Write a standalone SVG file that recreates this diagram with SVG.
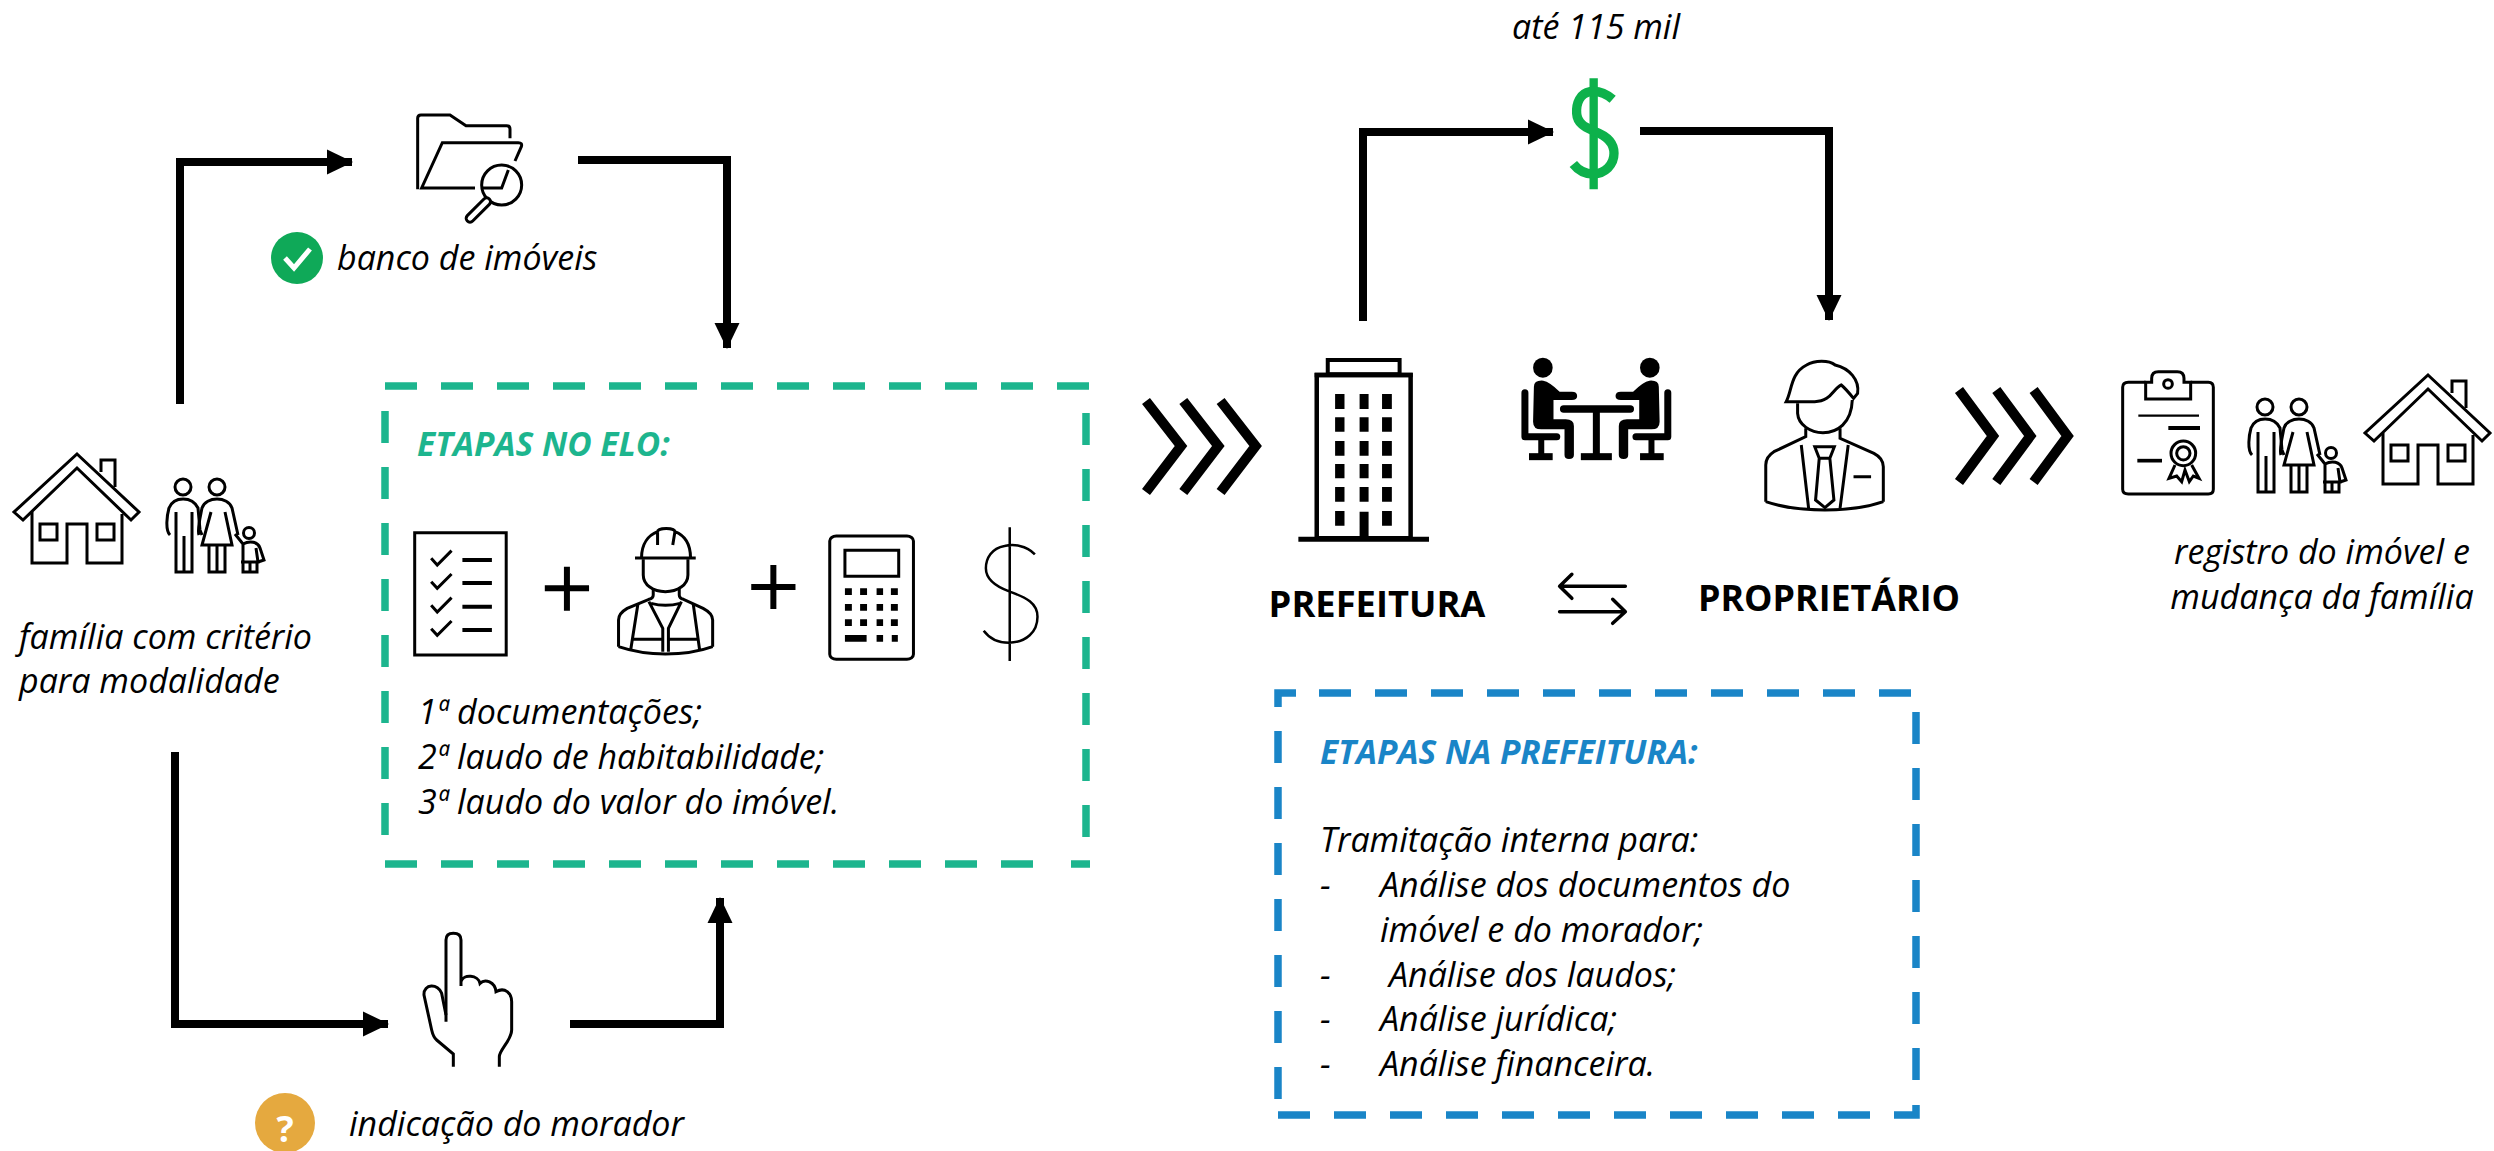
<svg xmlns="http://www.w3.org/2000/svg" xmlns:xlink="http://www.w3.org/1999/xlink" width="2494" height="1151" viewBox="0 0 2494 1151">
<style>
text{font-family:"Open Sans","Noto Sans",sans-serif;fill:#000}
.t{font-size:34px;font-style:italic}
.b{font-size:36.3px;font-weight:700}
.h{font-size:33.500px;font-weight:700;font-style:italic}
.l{fill:none;stroke:#000;stroke-width:3}
.z{fill:none;stroke:#000;stroke-width:3}
.k{fill:#000}
.box{fill:none;stroke-width:7.500;stroke-dasharray:32 24}
.sol{fill:none;stroke-width:7.500}
.chev{fill:none;stroke:#000;stroke-width:10}
.ns *{vector-effect:non-scaling-stroke}
</style>
<defs>
<marker id="ah" markerUnits="userSpaceOnUse" markerWidth="26" markerHeight="26" refX="25" refY="13" orient="auto"><path d="M0,0.500L26,13L0,25.500Z" fill="#000"/></marker>
<g id="house" class="l">
<path d="M77,454L139,512L131,520L77,468L23,520L14,512Z"/>
<path d="M32,512V563H67V524H87V563H122V514"/>
<rect x="40" y="524" width="17" height="16"/><rect x="97" y="524" width="17" height="16"/>
<path d="M101,472V460H115V487"/>
</g>
<g id="family" class="l">
<circle cx="183" cy="487" r="8"/><circle cx="217" cy="487" r="8"/><circle cx="249" cy="533" r="5.500"/>
<path d="M170,535C165,530 167,515 169,508C174,496 192,496 198,508L200,530L202,535"/>
<path d="M176,512V572H192V512M184,536V572"/>
<path d="M199,535C197,530 200,518 202,508C206,496 228,496 232,508L238,535"/>
<path d="M211,512L202,545H232L225,512M209,545V572H225V545M217,545V572"/>
<path d="M235,534L243,544C250,540 258,542 260,548L264,560L258,562M243,544V562L241,562H258L256,548M243,562V572H257V562M250,562V572"/>
</g>
</defs>

<g id="connectors" fill="none" stroke="#000" stroke-width="8">
<path d="M180,404V162H352" marker-end="url(#ah)"/>
<path d="M578,160H727V348" marker-end="url(#ah)"/>
<path d="M175,752V1024H388" marker-end="url(#ah)"/>
<path d="M570,1024H720V898" marker-end="url(#ah)"/>
<path d="M1363,321V132H1553" marker-end="url(#ah)"/>
<path d="M1640,131H1829V320" marker-end="url(#ah)"/>
</g>

<g id="chevrons-1"><path class="chev" d="M1146,401L1181,446L1146,492M1183.300,401L1218.300,446L1183.300,492M1220.600,401L1255.600,446L1220.600,492"/></g>
<g id="chevrons-2"><path class="chev" d="M1959,390L1993,436L1959,482M1996.300,390L2030.300,436L1996.300,482M2033.600,390L2067.600,436L2033.600,482"/></g>

<g id="node-familia">
<use xlink:href="#house"/><use xlink:href="#family"/>
<text class="t" x="19" y="649">família com critério</text>
<text class="t" x="19" y="693">para modalidade</text>
</g>

<g id="node-banco">
<g transform="translate(380,90) scale(.33333)" class="z" style="stroke-width:9">
<path d="M113,298V85Q113,75 123,75H210L258,107H380Q390,107 390,117V145"/>
<path d="M285,294H125L187,158H415Q428,158 424,170L405,213M385,240L365,294H305"/>
<circle cx="365" cy="285" r="60"/>
<path d="M320,335L270,385" stroke-width="32" stroke-linecap="round"/>
<path d="M320,335L270,385" stroke="#fff" stroke-width="14" stroke-linecap="round"/>
</g>
<circle cx="297" cy="258" r="26" fill="#0FA958"/>
<path d="M285,258L294,268L310,249" fill="none" stroke="#fff" stroke-width="5"/>
<text class="t" x="337" y="270">banco de imóveis</text>
</g>

<g id="node-indicacao">
<g transform="translate(230,950) scale(.33333)" class="z" style="stroke-width:9">
<path d="M648,215V-30Q648,-50 670,-50Q693,-50 693,-30V108M693,95C700,70 745,75 750,100C765,85 795,95 798,125C825,110 845,130 845,155V240C845,270 808,300 808,320V350"/>
<path d="M648,195L635,130C625,100 580,100 582,135L605,240Q610,262 620,270L670,312V350"/>
</g>
<circle cx="285" cy="1123" r="30" fill="#E5A93F"/>
<text x="285" y="1142" text-anchor="middle" style="font-size:36px;font-weight:700;fill:#fff">?</text>
<text class="t" x="349" y="1136">indicação do morador</text>
</g>

<g id="node-elo">
<g stroke="#1DB58E">
<path class="box" d="M385,386H1090"/>
<path class="box" d="M385,411V835"/>
<path class="box" d="M1086,413V837"/>
<path class="box" d="M385,864H1033"/>
<path class="sol" d="M1071,864H1090"/>
</g>
<text class="h" x="417" y="456" style="fill:#1DB58E">ETAPAS NO ELO:</text>
<g transform="translate(380,500) scale(.4337,.33333)" class="ns">
<rect class="z" x="80" y="98" width="211" height="367"/>
<path class="z" d="M118,175L132,195L165,152M118,245L132,265L165,222M118,316L132,336L165,293M118,386L132,406L165,363"/>
<path d="M190,180H258M190,249H258M190,320H258M190,390H258" stroke="#000" stroke-width="4"/>
<path d="M380,265H482M431,200V332" stroke="#000" stroke-width="6"/>
<path d="M856,261H958M907,195V327" stroke="#000" stroke-width="6"/>
<path class="z" d="M588,174H728M603,174C603,130 620,105 640,95C640,82 680,82 680,95C700,105 716,130 716,174M640,95L640,135M680,95L675,135"/>
<path class="z" d="M607,178V225C607,255 630,275 658,275C686,275 710,255 710,225V178"/>
<path class="z" d="M630,265V285Q630,295 620,298L570,325Q550,340 550,360V440M690,265V285Q690,295 700,298L745,325Q767,340 767,360V440M550,440Q600,462 658,462Q720,462 767,440"/>
<path class="z" d="M620,305L652,385V455M695,305L665,385V455M625,310Q658,322 692,310M595,310L578,450M722,310L737,450M580,418H650M665,418H735"/>
<rect class="z" x="1037" y="108" width="193" height="370" rx="15"/>
<rect class="z" x="1072" y="151" width="124" height="78"/>
<path class="k" d="M1072,265h16v20h-16zM1107,265h16v20h-16zM1145,265h15v20h-15zM1178,265h16v20h-16zM1072,312h16v20h-16zM1107,312h16v20h-16zM1145,312h15v20h-15zM1178,312h16v20h-16zM1072,358h16v20h-16zM1107,358h16v20h-16zM1145,358h15v20h-15zM1178,358h16v20h-16zM1072,405h50v20h-50zM1145,405h15v20h-15zM1180,405h14v20h-14z"/>
<path d="M1452,82V483M1510,163C1490,135 1460,132 1440,138C1410,145 1397,175 1397,205C1397,240 1420,260 1452,275C1490,292 1516,310 1516,350C1516,395 1490,428 1450,428C1425,428 1405,415 1392,392" fill="none" stroke="#000" stroke-width="2.500"/>
</g>
<text class="t" x="418" y="724">1ª documentações;</text>
<text class="t" x="418" y="769">2ª laudo de habitabilidade;</text>
<text class="t" x="418" y="814">3ª laudo do valor do imóvel.</text>
</g>

<g id="node-prefeitura">
<g transform="translate(1280,340) scale(.4082,.33333)" class="ns">
<rect x="117" y="60" width="176" height="43" fill="none" stroke="#000" stroke-width="4"/>
<rect x="90" y="105" width="230" height="490" fill="none" stroke="#000" stroke-width="4.500"/>
<path d="M85,105H325" stroke="#000" stroke-width="4.500"/>
<path d="M45,598H365" stroke="#000" stroke-width="5"/>
<path class="k" d="M135,162h23v45h-23zM195,162h22v45h-22zM250,162h24v45h-24zM135,232h23v43h-23zM195,232h22v43h-22zM250,232h24v43h-24zM135,303h23v44h-23zM195,303h22v44h-22zM250,303h24v44h-24zM135,372h23v43h-23zM195,372h22v43h-22zM250,372h24v43h-24zM135,441h23v44h-23zM195,441h22v44h-22zM250,441h24v44h-24zM135,513h23v44h-23zM195,515h22v80h-22zM250,513h24v44h-24z"/>
</g>
<text class="b" x="1377" y="617" text-anchor="middle">PREFEITURA</text>
</g>

<g id="node-reuniao">
<g transform="translate(1280,340) scale(.4082,.33333)" class="ns">
<g id="pessoa">
<ellipse cx="644" cy="83" rx="24" ry="30" fill="#000"/>
<path class="k" d="M622,140Q622,120 645,122Q660,125 685,155H715Q728,155 728,168Q728,180 715,180H670V238H700Q720,238 720,258V345Q720,357 708,357Q697,357 697,345V268H640Q620,268 620,245Z"/>
<path d="M600,158V290H678" fill="none" stroke="#000" stroke-width="7" stroke-linecap="round" stroke-linejoin="round"/>
<path d="M640,298V345" stroke="#000" stroke-width="6"/><path d="M610,350H668" stroke="#000" stroke-width="7"/>
</g>
<use xlink:href="#pessoa" transform="translate(1550,0) scale(-1,1)"/>
<path d="M695,207H858" stroke="#000" stroke-width="7.500" stroke-linecap="round"/>
<path d="M775,207V345" stroke="#000" stroke-width="7"/><path d="M737,350H813" stroke="#000" stroke-width="7"/>
</g>
</g>

<g id="node-troca">
<g transform="translate(1280,340) scale(.4082,.33333)" class="ns" fill="none" stroke="#000" stroke-width="3.500" stroke-linecap="round" stroke-linejoin="round">
<path d="M846,739H685M715,703L685,739L715,775M685,815H846M815,778L846,815L815,850"/>
</g>
</g>

<g id="node-proprietario">
<g transform="translate(1280,340) scale(.4082,.33333)" class="z ns">
<path d="M1240,185C1255,150 1250,100 1290,75C1310,60 1345,60 1360,75C1395,85 1420,120 1415,160L1405,175C1395,160 1385,145 1375,135C1355,145 1350,185 1310,185Z"/>
<path d="M1268,190V220C1270,255 1300,278 1330,278C1365,278 1400,250 1402,180"/>
<path d="M1288,265V290L1210,335Q1190,350 1190,375V485M1372,265V295L1455,340Q1478,355 1478,380V485M1190,485Q1250,510 1335,510Q1420,510 1478,485"/>
<path d="M1277,315L1295,505M1392,315L1372,505M1310,320H1358L1347,355H1321ZM1321,355L1312,480L1335,503L1357,480L1347,355M1405,410H1448"/>
</g>
<text class="b" x="1829" y="611" text-anchor="middle" style="font-size:35.800px">PROPRIETÁRIO</text>
</g>

<g id="node-valor">
<g transform="translate(1500,60) scale(.33333)" fill="none" stroke="#0DB14B">
<path d="M281,55V388" stroke-width="25"/>
<path d="M338,118C315,98 290,92 270,95C240,100 228,130 230,160C232,195 265,205 285,215C320,228 342,250 342,280C342,315 315,340 280,342C260,342 238,335 220,312" stroke-width="28"/>
</g>
<text class="t" x="1596" y="39" text-anchor="middle">até 115 mil</text>
</g>

<g id="node-prefeitura-etapas">
<g stroke="#1A85C7">
<path class="sol" d="M1278,707V693H1296"/>
<path class="box" d="M1319,693H1911"/>
<path class="box" d="M1278,731V1099"/>
<path class="box" d="M1916,712V1080"/>
<path class="box" d="M1278,1115H1870"/>
<path class="sol" d="M1894,1115H1916V1105"/>
</g>
<text class="h" x="1320" y="764" style="fill:#1A85C7">ETAPAS NA PREFEITURA:</text>
<text class="t" x="1320" y="852">Tramitação interna para:</text>
<text class="t" x="1320" y="897">-</text><text class="t" x="1380" y="897">Análise dos documentos do</text>
<text class="t" x="1380" y="942">imóvel e do morador;</text>
<text class="t" x="1320" y="987">-</text><text class="t" x="1389" y="987">Análise dos laudos;</text>
<text class="t" x="1320" y="1031">-</text><text class="t" x="1380" y="1031">Análise jurídica;</text>
<text class="t" x="1320" y="1076">-</text><text class="t" x="1380" y="1076">Análise financeira.</text>
</g>

<g id="node-registro">
<g transform="translate(2100,350) scale(.33333)" class="z" style="stroke-width:9">
<path d="M137,97H85Q68,97 68,112V418Q68,432 85,432H325Q340,432 340,418V112Q340,97 325,97H272"/>
<path d="M137,97V147H272V97H252V85Q252,65 232,65H175Q155,65 155,85V97Z"/>
<circle cx="204" cy="102" r="13"/>
<path d="M115,197H297" stroke-width="7"/><path d="M205,234H300" stroke-width="12"/><path d="M112,332H186" stroke-width="11"/>
<circle cx="250" cy="310" r="37"/><circle cx="250" cy="310" r="20"/>
<path d="M225,345L207,385L230,378L245,395L255,360L268,395L280,378L297,385L275,345"/>
</g>
<use xlink:href="#family" transform="translate(2082,-80)"/>
<use xlink:href="#house" transform="translate(2351,-79)"/>
<text class="t" x="2322" y="564" text-anchor="middle">registro do imóvel e</text>
<text class="t" x="2322" y="609" text-anchor="middle">mudança da família</text>
</g>
</svg>
